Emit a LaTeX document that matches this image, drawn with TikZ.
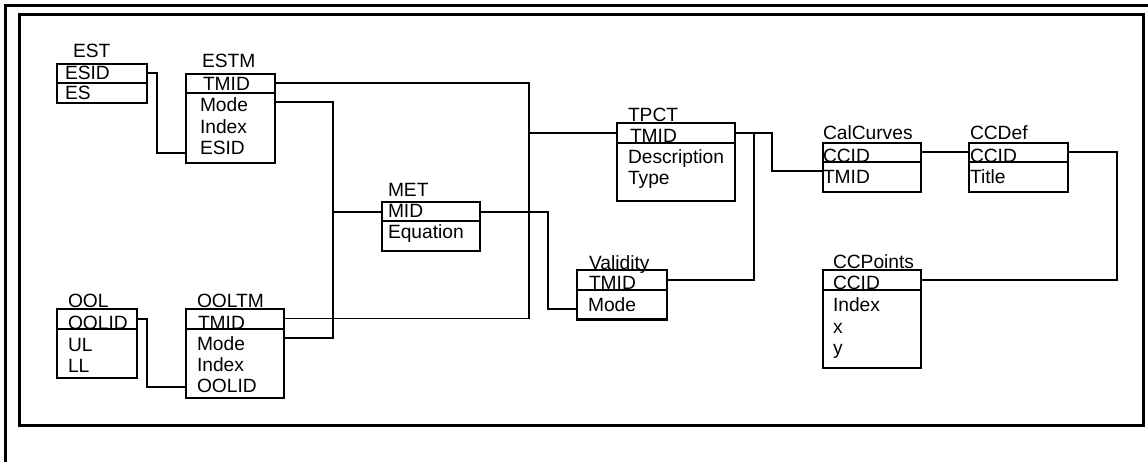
\documentclass[tikz,border=0pt]{standalone}
\usepackage{fontspec}
\setmainfont{Liberation Sans}
\begin{document}
\begin{tikzpicture}[x=1pt,y=-1pt,
  tbl/.style={draw,line width=2.2pt,rectangle,inner sep=0pt,outer sep=0pt},
  sepline/.style={line width=1.8pt},
  conn/.style={line width=1.9pt},
  frame/.style={line width=2.2pt},
  txt/.style={anchor=base west,inner sep=0pt,outer sep=0pt,font=\fontsize{19.2}{21}\selectfont}]
\useasboundingbox (0,0) rectangle (1148,462);
% frames
\draw[frame] (5.5,462) -- (5.5,5.5) -- (1148,5.5);
\draw[frame] (19.5,14.5) rectangle (1143.5,425.5);
% boxes
\node[tbl,minimum width=89.4pt,minimum height=39.3pt] (est) at (102,83.65) {};
\node[tbl,minimum width=89.3pt,minimum height=89pt] (estm) at (230.35,118.8) {};
\node[tbl,minimum width=80pt,minimum height=69pt] (ool) at (97.3,343.8) {};
\node[tbl,minimum width=98.6pt,minimum height=88.4pt] (ooltm) at (235,353.5) {};
\node[tbl,minimum width=98.3pt,minimum height=49pt] (met) at (430.85,226.2) {};
\node[tbl,minimum width=117.7pt,minimum height=77.7pt] (tpct) at (676.15,162.15) {};
\node[tbl,minimum width=89.4pt,minimum height=49.5pt] (validity) at (622,294.75) {};
\node[tbl,minimum width=98.6pt,minimum height=49pt] (calcurves) at (872,167.2) {};
\node[tbl,minimum width=98.7pt,minimum height=49pt] (ccdef) at (1018.65,167.2) {};
\node[tbl,minimum width=98.6pt,minimum height=98.3pt] (ccpoints) at (872,319.15) {};
% separators
\draw[sepline] (est.west |- 0,83.3) -- (est.east |- 0,83.3);
\draw[sepline] (estm.west |- 0,93.3) -- (estm.east |- 0,93.3);
\draw[sepline] (ool.west |- 0,329.3) -- (ool.east |- 0,329.3);
\draw[sepline] (ooltm.west |- 0,329.3) -- (ooltm.east |- 0,329.3);
\draw[sepline] (met.west |- 0,221) -- (met.east |- 0,221);
\draw[sepline] (tpct.west |- 0,142.7) -- (tpct.east |- 0,142.7);
\draw[sepline] (validity.west |- 0,290) -- (validity.east |- 0,290);
\draw[sepline] (calcurves.west |- 0,162.3) -- (calcurves.east |- 0,162.3);
\draw[sepline] (ccdef.west |- 0,162.3) -- (ccdef.east |- 0,162.3);
\draw[sepline] (ccpoints.west |- 0,290) -- (ccpoints.east |- 0,290);
% texts
\node[txt] (est-t) at (73,58) {EST};
\node[txt] (est-1) at (65,80) {ESID};
\node[txt] (est-2) at (65,100) {ES};
\node[txt] (estm-t) at (202,68) {ESTM};
\node[txt] (estm-1) at (203,90.5) {TMID};
\node[txt] (estm-2) at (200,112) {Mode};
\node[txt] (estm-3) at (200,133.5) {Index};
\node[txt] (estm-4) at (200,155) {ESID};
\node[txt] (ool-t) at (68,307) {OOL};
\node[txt] (ool-1) at (68,329) {OOLID};
\node[txt] (ool-2) at (68,351) {UL};
\node[txt] (ool-3) at (68,372) {LL};
\node[txt] (ooltm-t) at (197,307) {OOLTM};
\node[txt] (ooltm-1) at (198,329) {TMID};
\node[txt] (ooltm-2) at (197,350) {Mode};
\node[txt] (ooltm-3) at (197,371) {Index};
\node[txt] (ooltm-4) at (197,392) {OOLID};
\node[txt] (met-t) at (388,197) {MET};
\node[txt] (met-1) at (388,218) {MID};
\node[txt] (met-2) at (388,239) {Equation};
\node[txt] (tpct-t) at (628,122) {TPCT};
\node[txt] (tpct-1) at (630,143) {TMID};
\node[txt] (tpct-2) at (628,164) {Description};
\node[txt] (tpct-3) at (628,185) {Type};
\node[txt] (val-t) at (589,270) {Validity};
\node[txt] (val-1) at (589,290) {TMID};
\node[txt] (val-2) at (588,312) {Mode};
\node[txt] (cal-t) at (823,140) {CalCurves};
\node[txt] (cal-1) at (823,163) {CCID};
\node[txt] (cal-2) at (823,184) {TMID};
\node[txt] (ccd-t) at (970,140) {CCDef};
\node[txt] (ccd-1) at (970,163) {CCID};
\node[txt] (ccd-2) at (970,184) {Title};
\node[txt] (ccp-t) at (833,269) {CCPoints};
\node[txt] (ccp-1) at (833,290) {CCID};
\node[txt] (ccp-2) at (833,312) {Index};
\node[txt] (ccp-3) at (833,333) {x};
\node[txt] (ccp-4) at (833,354) {y};
% junction coordinates
\coordinate (j1) at (529.3,132.7);
\coordinate (j2) at (333.3,211.7);
\coordinate (j3) at (754,132.7);
% connectors
\draw[conn] (est.east |- 0,73.3) -- (156.7,73.3) -- (156.7,153.3) -- (estm.west |- 0,153.3);
\draw[conn] (estm.east |- 0,83.3) -- (529.3,83.3) -- (529.3,318.5) -- (ooltm.east |- 0,318.5);
\draw[conn] (j1) -- (tpct.west |- j1);
\draw[conn] (estm.east |- 0,101.7) -- (333.3,101.7) -- (333.3,338.3) -- (ooltm.east |- 0,338.3);
\draw[conn] (j2) -- (met.west |- j2);
\draw[conn] (ool.east |- 0,319.3) -- (147.3,319.3) -- (147.3,387.3) -- (ooltm.west |- 0,387.3);
\draw[conn] (met.east |- 0,211.7) -- (548.3,211.7) -- (548.3,309.3) -- (validity.west |- 0,309.3);
\draw[conn] (tpct.east |- 0,132.7) -- (772.3,132.7) -- (772.3,171.3) -- (calcurves.west |- 0,171.3);
\draw[conn] (j3) -- (754,280) -- (validity.east |- 0,280);
\draw[conn] (calcurves.east |- 0,151.7) -- (ccdef.west |- 0,151.7);
\draw[conn] (ccdef.east |- 0,151.7) -- (1117.3,151.7) -- (1117.3,280) -- (ccpoints.east |- 0,280);
\end{tikzpicture}
\end{document}
